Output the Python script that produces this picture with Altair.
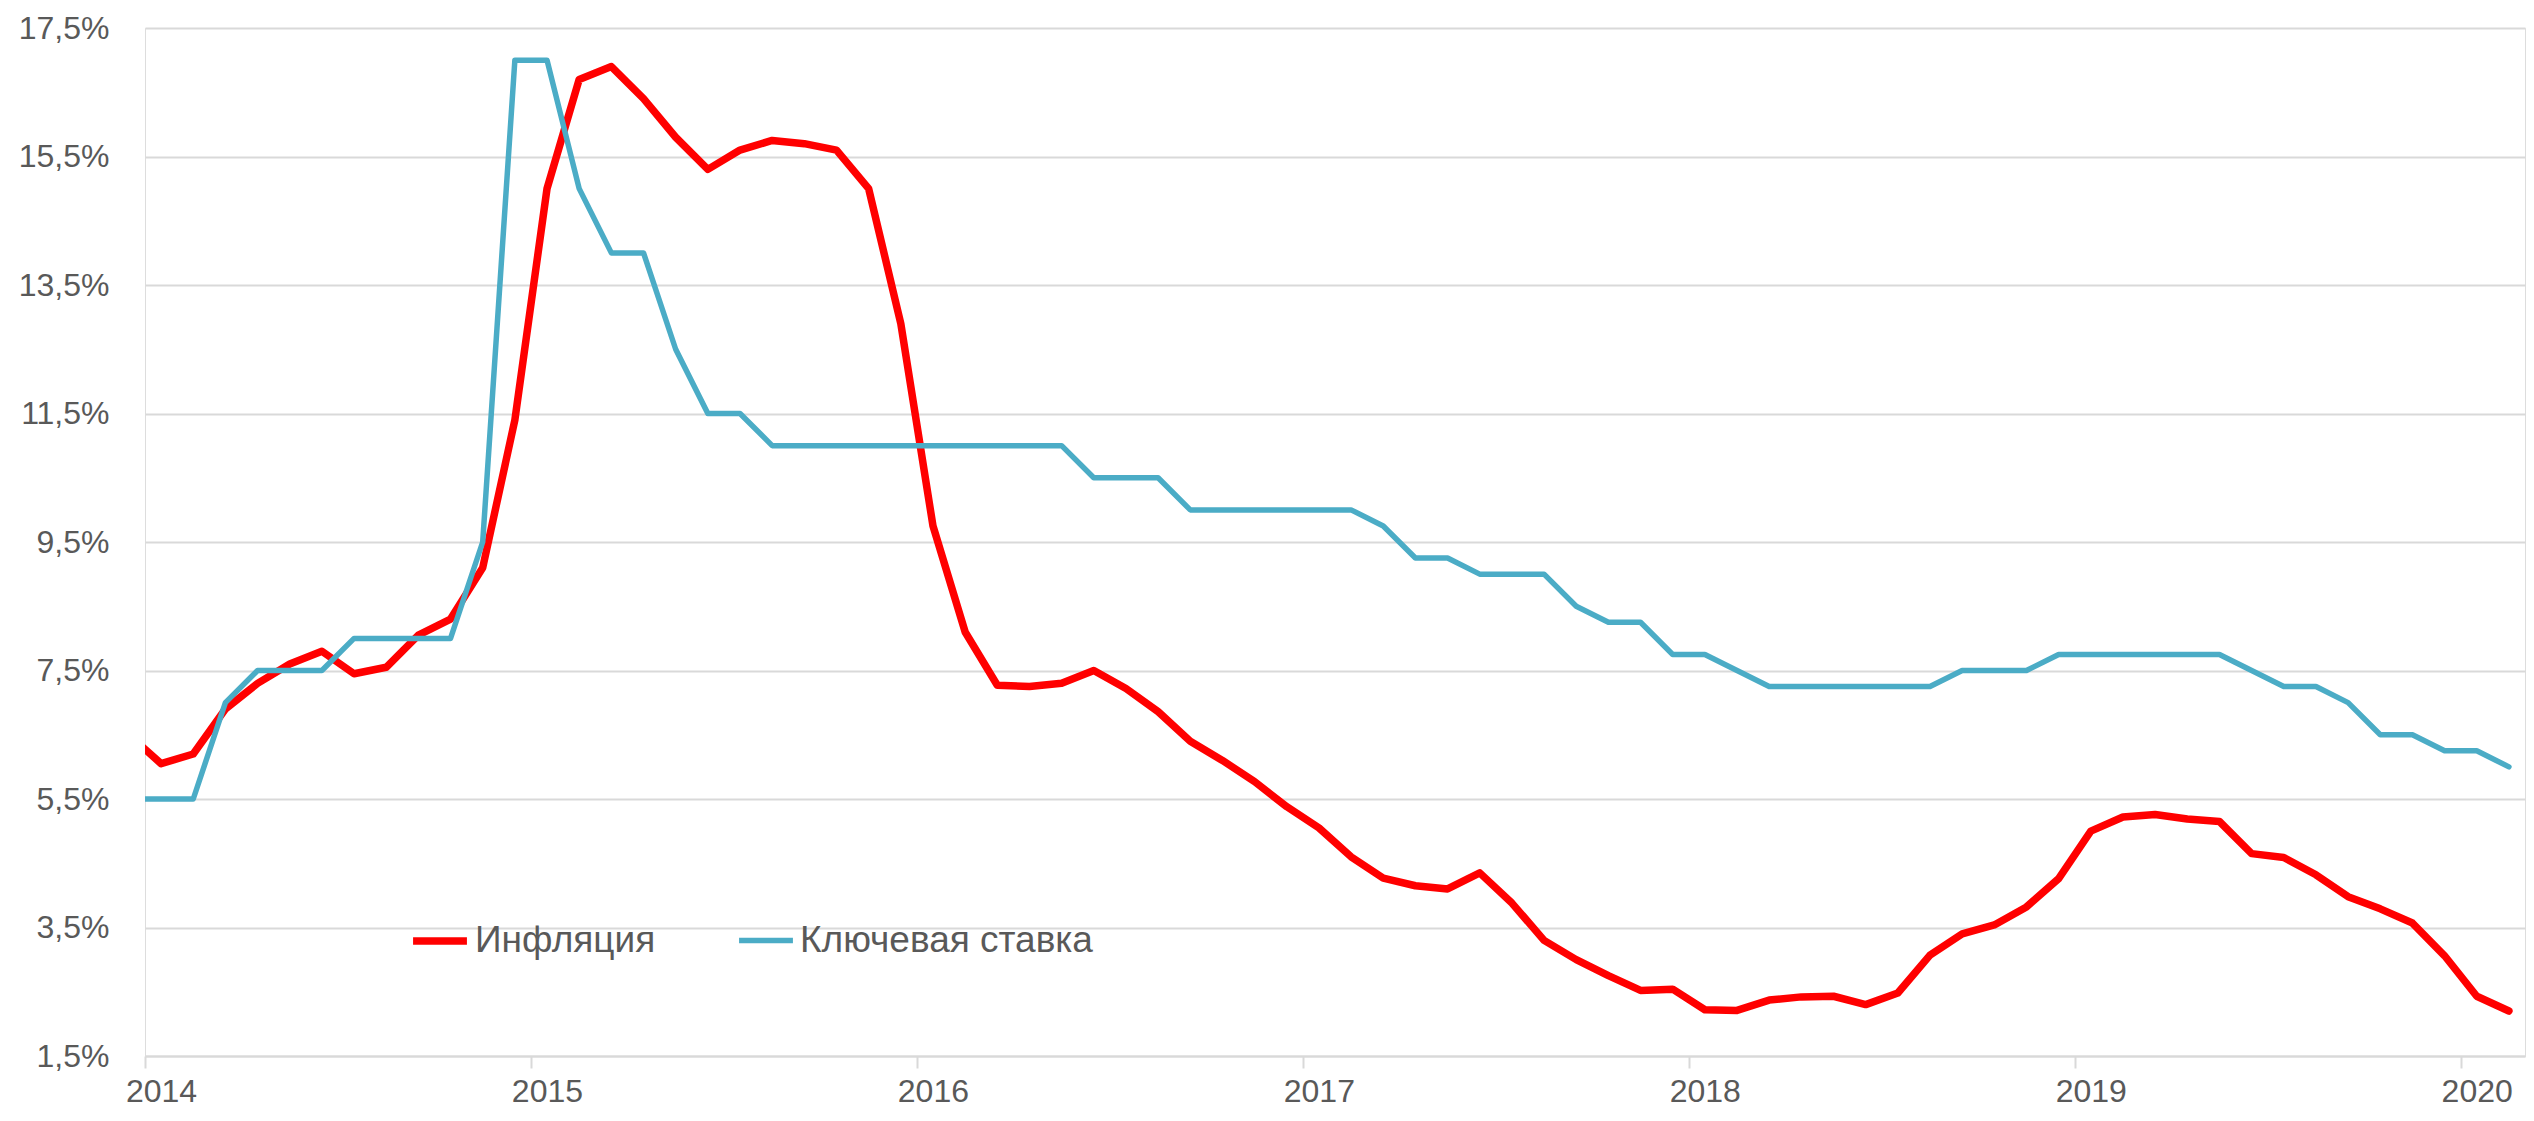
import altair as alt
import pandas as pd

# Monthly values, Dec 2013 .. Feb 2020
months = [f"{y}-{m:02d}" for y in range(2013, 2021) for m in range(1, 13)]
months = months[months.index("2013-12"):months.index("2020-02") + 1]

inflation = [
    6.5,
    6.05, 6.2, 6.9, 7.3, 7.6, 7.8, 7.45, 7.55, 8.05, 8.3, 9.1, 11.4,      # 2014
    15.0, 16.7, 16.9, 16.4, 15.8, 15.3, 15.6, 15.75, 15.7, 15.6, 15.0, 12.9,  # 2015
    9.75, 8.1, 7.27, 7.25, 7.3, 7.5, 7.22, 6.86, 6.4, 6.1, 5.77, 5.38,    # 2016
    5.05, 4.6, 4.27, 4.15, 4.1, 4.35, 3.88, 3.3, 3.0, 2.75, 2.52, 2.54,   # 2017
    2.22, 2.21, 2.37, 2.42, 2.43, 2.3, 2.48, 3.07, 3.4, 3.54, 3.82, 4.26,  # 2018
    5.0, 5.22, 5.26, 5.19, 5.15, 4.65, 4.59, 4.32, 3.98, 3.79, 3.57, 3.06,  # 2019
    2.43, 2.2,                                                             # 2020
]

key_rate = [
    5.5,
    5.5, 5.5, 7.0, 7.5, 7.5, 7.5, 8.0, 8.0, 8.0, 8.0, 9.5, 17.0,          # 2014
    17.0, 15.0, 14.0, 14.0, 12.5, 11.5, 11.5, 11.0, 11.0, 11.0, 11.0, 11.0,  # 2015
    11.0, 11.0, 11.0, 11.0, 11.0, 10.5, 10.5, 10.5, 10.0, 10.0, 10.0, 10.0,  # 2016
    10.0, 10.0, 9.75, 9.25, 9.25, 9.0, 9.0, 9.0, 8.5, 8.25, 8.25, 7.75,   # 2017
    7.75, 7.5, 7.25, 7.25, 7.25, 7.25, 7.25, 7.25, 7.5, 7.5, 7.5, 7.75,   # 2018
    7.75, 7.75, 7.75, 7.75, 7.75, 7.5, 7.25, 7.25, 7.0, 6.5, 6.5, 6.25,   # 2019
    6.25, 6.0,                                                             # 2020
]

series_names = ["Инфляция", "Ключевая ставка"]
series_colors = ["#FF0000", "#4BACC6"]
year_ticks = [2014, 2015, 2016, 2017, 2018, 2019, 2020]
y_ticks = [1.5, 3.5, 5.5, 7.5, 9.5, 11.5, 13.5, 15.5, 17.5]


def month_pos(s):
    y, m = s.split("-")
    return (int(y) - 2014) * 12 + (int(m) - 1) + 0.5


rows = []
for name, vals in zip(series_names, [inflation, key_rate]):
    for mo, v in zip(months, vals):
        rows.append({"month": mo, "pos": month_pos(mo), "value": v, "series": name})
df = pd.DataFrame(rows)

font = "Liberation Sans"
grey = "#595959"
gridc = "#D9D9D9"

x = alt.X(
    "pos:Q",
    scale=alt.Scale(domain=[0, 74], nice=False, zero=False),
    axis=alt.Axis(
        title=None,
        values=[(y - 2014) * 12 for y in year_ticks],
        labelExpr="toString(2014 + datum.value / 12)",
        grid=False,
        ticks=True,
        tickSize=12,
        tickColor=gridc,
        tickWidth=2,
        domain=True,
        domainColor=gridc,
        domainWidth=2,
        labelFlush=False,
        labelOverlap=False,
        labelOffset=16,
        labelPadding=8,
        labelFontSize=32,
        labelColor=grey,
        labelFont=font,
    ),
)
y = alt.Y(
    "value:Q",
    scale=alt.Scale(domain=[1.5, 17.5], nice=False, zero=False),
    axis=alt.Axis(
        title=None,
        values=y_ticks,
        labelExpr="replace(format(datum.value, '.1f'), '.', ',') + '%'",
        grid=True,
        gridColor=gridc,
        gridWidth=2,
        ticks=False,
        domain=False,
        labelPadding=36,
        labelFontSize=32,
        labelColor=grey,
        labelFont=font,
    ),
)

color = alt.Color(
    "series:N",
    scale=alt.Scale(domain=series_names, range=series_colors),
    legend=alt.Legend(
        title=None,
        orient="none",
        direction="horizontal",
        legendX=264,
        legendY=882,
        symbolType="stroke",
        symbolSize=2900,
        symbolStrokeWidth=7,
        labelFontSize=37,
        labelFont=font,
        labelColor=grey,
        labelOffset=4,
        labelLimit=0,
        columnPadding=72,
        padding=0,
    ),
)
sw = alt.StrokeWidth(
    "series:N",
    scale=alt.Scale(domain=series_names, range=[7.5, 5.5]),
    legend=None,
)

base = alt.Chart(df).mark_line(clip=True, strokeJoin="round", strokeCap="round").encode(
    x=x, y=y, color=color, strokeWidth=sw,
    order=alt.Order("pos:Q"),
)

red = base.transform_filter(alt.datum.series == series_names[0])
blue = base.transform_filter(alt.datum.series == series_names[1])

chart = (
    alt.layer(red, blue)
    .properties(
        width=2380,
        height=1028,
        autosize=alt.AutoSizeParams(type="none"),
        padding={"left": 137, "top": 20, "right": 1, "bottom": 52},
    )
    .configure_view(stroke=None)
    .configure(background="white")
)

chart.save("out.html", embed_options={"renderer": "svg", "actions": False})
